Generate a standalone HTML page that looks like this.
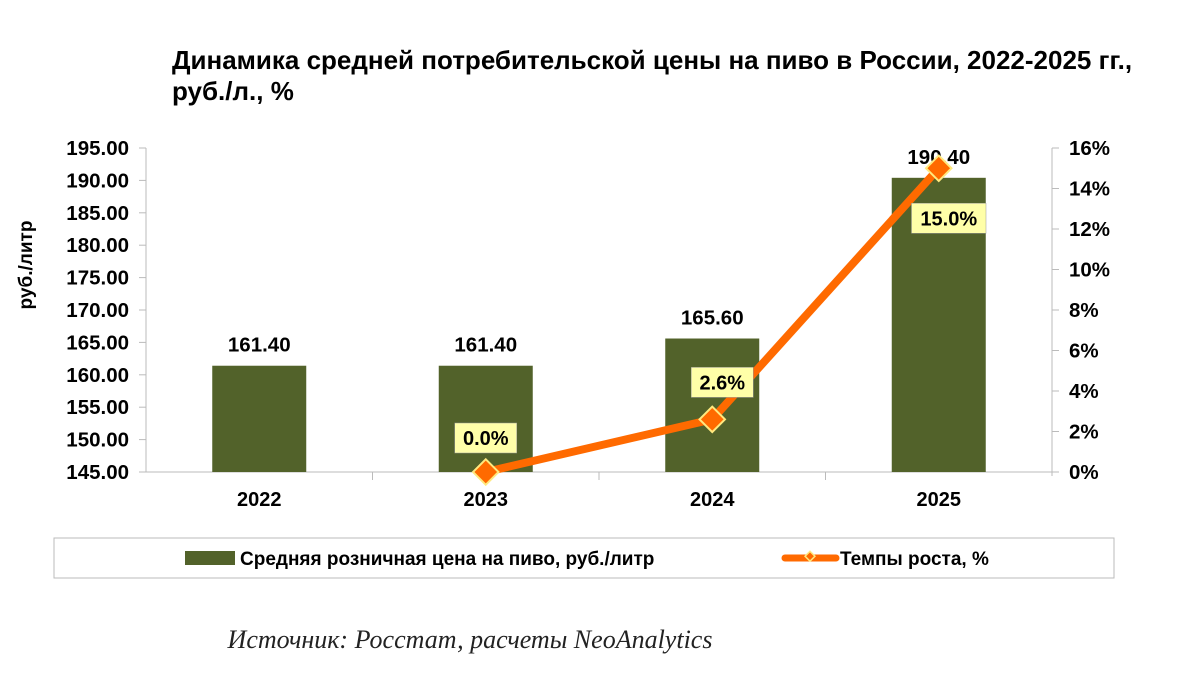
<!DOCTYPE html>
<html><head><meta charset="utf-8"><style>
body{margin:0;background:#fff;width:1200px;height:676px;overflow:hidden;font-family:"Liberation Sans",sans-serif}
</style></head><body>
<svg width="1200" height="676" xmlns="http://www.w3.org/2000/svg">
<text x="172" y="69" font-size="26" font-weight="bold" fill="#000">Динамика средней потребительской цены на пиво в России, 2022-2025 гг.,</text>
<text x="172" y="100" font-size="26" font-weight="bold" fill="#000">руб./л., %</text>
<text transform="translate(32,265) rotate(-90)" font-size="19" font-weight="bold" text-anchor="middle">руб./литр</text>
<g id="plot"></g>
<rect x="54" y="538" width="1060" height="40" fill="#fff" stroke="#bbb"/>
<rect x="185" y="551" width="50" height="14" fill="#52622a"/>
<text x="240" y="565" font-size="19" font-weight="bold">Средняя розничная цена на пиво, руб./литр</text>
<line x1="785" y1="558" x2="836" y2="558" stroke="#ff6a00" stroke-width="7" stroke-linecap="round"/>
<rect x="806" y="553" width="7" height="7" transform="rotate(45 810 557)" fill="#ff6a00" stroke="#ffe97f" stroke-width="1.5"/>
<text x="840" y="565" font-size="19" font-weight="bold">Темпы роста, %</text>
<text x="470" y="648" font-size="26" font-style="italic" font-family="Liberation Serif,serif" text-anchor="middle" fill="#222">Источник: Росстат, расчеты NeoAnalytics</text>
</svg>
<script>
const categories=["2022","2023","2024","2025"];
const prices=[161.4,161.4,165.6,190.4];
const growth=[null,0.0,2.6,15.0];
const leftTicks=[145,150,155,160,165,170,175,180,185,190,195];
const rightTicks=[0,2,4,6,8,10,12,14,16];
const NS="http://www.w3.org/2000/svg";
const g=document.getElementById('plot');
const X0=146,X1=1052,Y0=472,Y1=148;
const yL=v=>Y0-(v-145)/(195-145)*(Y0-Y1);
const yR=v=>Y0-v/16*(Y0-Y1);
const bw=(X1-X0)/categories.length;
const xc=i=>X0+bw*(i+0.5);
function el(t,a,txt){const e=document.createElementNS(NS,t);for(const k in a)e.setAttribute(k,a[k]);if(txt!=null)e.textContent=txt;g.appendChild(e);return e;}
let e;
e=el('line',{x1:X0,y1:Y1,x2:X0,y2:Y0,stroke:'#bbb'});


e=el('line',{x1:X1,y1:Y1,x2:X1,y2:Y0+4,stroke:'#bbb'});


e=el('line',{x1:X0-6,y1:Y0,x2:X1+6,y2:Y0,stroke:'#bbb'});


leftTicks.forEach(v=>{
 el('line',{x1:X0-7,y1:yL(v),x2:X0,y2:yL(v),stroke:'#bbb'});
 e=el('text',{x:X0-17,y:yL(v)+7,'font-size':20.5,'font-weight':'bold','text-anchor':'end'},v.toFixed(2));
 
 
});
rightTicks.forEach(v=>{
 el('line',{x1:X1,y1:yR(v),x2:X1+7,y2:yR(v),stroke:'#bbb'});
 e=el('text',{x:X1+17,y:yR(v)+7,'font-size':20.5,'font-weight':'bold'},v+'%');
 
 
});
for(let i=1;i<categories.length;i++){el('line',{x1:X0+bw*i,y1:Y0,x2:X0+bw*i,y2:Y0+8,stroke:'#bbb'});}
categories.forEach((c,i)=>{
 const x=xc(i);
 e=el('rect',{x:x-47,y:yL(prices[i]),width:94,height:Y0-yL(prices[i]),fill:'#52622a'});
 
 
 e=el('text',{x:x,y:yL(prices[i])-14,'font-size':20.5,'font-weight':'bold','text-anchor':'middle'},prices[i].toFixed(2));
 
 
 e=el('text',{x:x,y:Y0+34,'font-size':20,'font-weight':'bold','text-anchor':'middle'},c);
 
 
});
const pts=[];growth.forEach((v,i)=>{if(v!=null)pts.push([xc(i),yR(v),v]);});
e=el('polyline',{points:pts.map(p=>p[0]+','+p[1]).join(' '),fill:'none',stroke:'#ff6a00','stroke-width':8,'stroke-linejoin':'round'});


pts.forEach(p=>{
 e=el('rect',{x:p[0]-9,y:p[1]-9,width:18,height:18,transform:`rotate(45 ${p[0]} ${p[1]})`,fill:'#ff6a00',stroke:'#ffe97f','stroke-width':2});
 
 
});
pts.forEach((p,k)=>{
 const t=p[2].toFixed(1)+'%';const w=t.length*12.5+12;
 const last=k==pts.length-1;
 const cx=k==0?p[0]:p[0]+10;const cy=last?p[1]+50:(k==0?p[1]-34:p[1]-37);
 el('rect',{x:cx-w/2,y:cy-15,width:w,height:30,fill:'#ffffa8',stroke:'#999','stroke-width':0.5});
 e=el('text',{x:cx,y:cy+7,'font-size':20,'font-weight':'bold','text-anchor':'middle'},t);
 
 
});
</script>
</body></html>
